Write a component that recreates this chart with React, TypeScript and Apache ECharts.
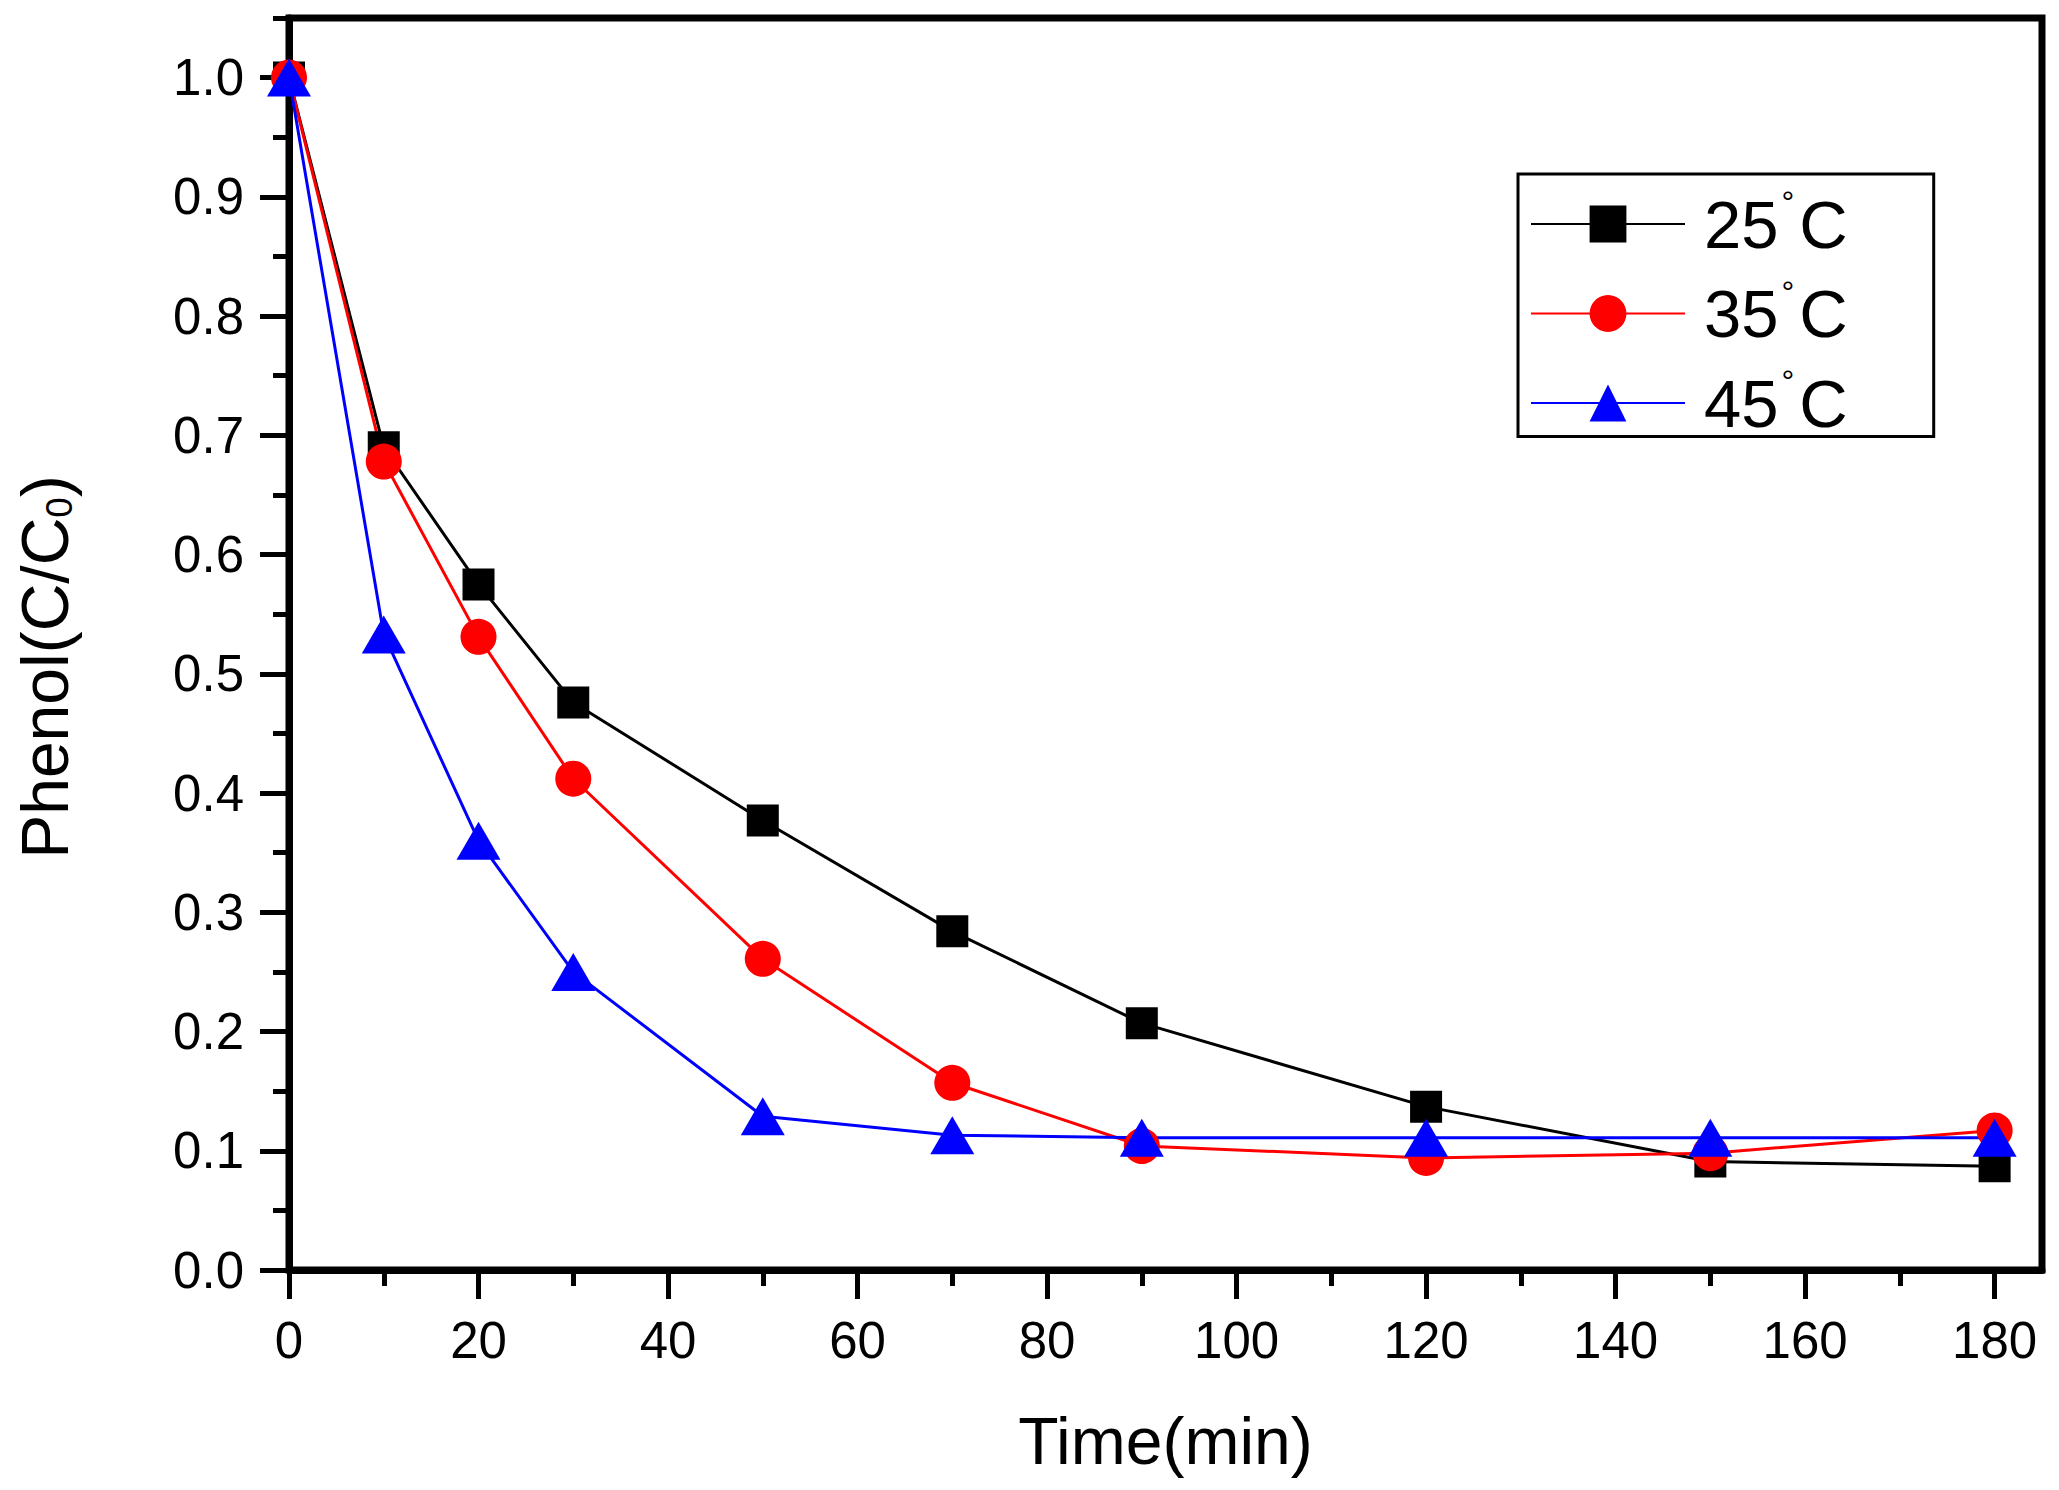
import React, { useEffect, useRef } from 'react';
import * as echarts from 'echarts';

// Time axis (min) and relative phenol concentration C/C0 per temperature
const timeMin = [0, 10, 20, 30, 50, 70, 90, 120, 150, 180];
const c25 = [1.0, 0.69, 0.575, 0.476, 0.377, 0.284, 0.207, 0.137, 0.091, 0.087];
const c35 = [1.0, 0.678, 0.531, 0.412, 0.261, 0.157, 0.104, 0.094, 0.098, 0.117];
const c45 = [1.0, 0.533, 0.36, 0.25, 0.129, 0.113, 0.111, 0.111, 0.111, 0.111];

const seriesNames = ['25°C', '35°C', '45°C'];

// tick positions
const xMajor = [0, 20, 40, 60, 80, 100, 120, 140, 160, 180];
const xMinor = [10, 30, 50, 70, 90, 110, 130, 150, 170];
const yMajor = [0, 0.1, 0.2, 0.3, 0.4, 0.5, 0.6, 0.7, 0.8, 0.9, 1.0];
const yMinor = [0.05, 0.15, 0.25, 0.35, 0.45, 0.55, 0.65, 0.75, 0.85, 0.95, 1.05];

const FONT = '"Liberation Sans", Arial, sans-serif';

const pairs = (ys: number[]) => timeMin.map((t, i) => [t, ys[i]]);

function buildOption(): echarts.EChartsOption {
  const tickStyle = { color: '#000', width: 5 };
  const lineW = 3;

  return {
    animation: false,
    backgroundColor: '#fff',
    grid: {
      left: 289,
      right: 17,
      top: 18,
      bottom: 220,
      show: true,
      borderColor: '#000',
      borderWidth: 7,
    },
    xAxis: [
      {
        type: 'value',
        position: 'bottom',
        min: 0,
        max: 185,
        axisLine: { show: true, lineStyle: { color: '#000', width: 7 } },
        axisTick: { show: true, inside: false, length: 29, lineStyle: tickStyle, customValues: xMajor } as any,
        axisLabel: {
          customValues: xMajor,
          margin: 45,
          fontSize: 51,
          color: '#000',
          fontFamily: FONT,
        } as any,
        splitLine: { show: false },
        name: 'Time(min)',
        nameLocation: 'middle',
        nameGap: 138,
        nameTextStyle: { fontSize: 66, color: '#000', fontFamily: FONT },
      },
      {
        type: 'value',
        position: 'bottom',
        min: 0,
        max: 185,
        axisLine: { show: false },
        axisTick: { show: true, inside: false, length: 16, lineStyle: tickStyle, customValues: xMinor } as any,
        axisLabel: { show: false },
        splitLine: { show: false },
      },
    ],
    yAxis: [
      {
        type: 'value',
        position: 'left',
        min: 0,
        max: 1.05,
        axisLine: { show: true, lineStyle: { color: '#000', width: 7 } },
        axisTick: { show: true, inside: false, length: 29, lineStyle: tickStyle, customValues: yMajor } as any,
        axisLabel: {
          customValues: yMajor,
          margin: 45,
          fontSize: 51,
          color: '#000',
          fontFamily: FONT,
          formatter: (v: number) => v.toFixed(1),
        } as any,
        splitLine: { show: false },
      },
      {
        type: 'value',
        position: 'left',
        min: 0,
        max: 1.05,
        axisLine: { show: false },
        axisTick: { show: true, inside: false, length: 16, lineStyle: tickStyle, customValues: yMinor } as any,
        axisLabel: { show: false },
        splitLine: { show: false },
      },
    ],
    legend: {
      data: seriesNames,
      orient: 'vertical',
      left: 1518,
      top: 174,
      itemWidth: 154,
      itemHeight: 46,
      itemGap: 18,
      padding: [12, 86, 0, 12],
      borderColor: '#000',
      borderWidth: 3,
      formatter: (name: string) => `{n|${name.replace('°C', '')}}{d|°}{n|C}`,
      textStyle: {
        padding: [0, 0, 0, 14],
        rich: {
          n: { fontSize: 67, lineHeight: 60, color: '#000', fontFamily: FONT },
          d: { fontSize: 32, verticalAlign: 'top', color: '#000', fontFamily: FONT, padding: [-8, 5, 0, 3] },
        },
      },
    },
    graphic: [
      {
        type: 'text',
        x: 45,
        y: 667,
        rotation: Math.PI / 2,
        style: {
          text: '{n|Phenol(C/C}{s|0}{n|)}',
          align: 'center',
          verticalAlign: 'middle',
          rich: {
            n: { fontSize: 66, lineHeight: 66, fill: '#000', fontFamily: FONT },
            s: { fontSize: 37, lineHeight: 42, verticalAlign: 'bottom', fill: '#000', fontFamily: FONT },
          },
        } as any,
      },
    ],
    series: [
      {
        name: seriesNames[0],
        type: 'line',
        xAxisIndex: 0,
        yAxisIndex: 0,
        data: pairs(c25),
        symbol: 'rect',
        symbolSize: 32,
        color: '#000000',
        lineStyle: { color: '#000000', width: lineW },
        itemStyle: { color: '#000000' },
      },
      {
        name: seriesNames[1],
        type: 'line',
        xAxisIndex: 0,
        yAxisIndex: 0,
        data: pairs(c35),
        symbol: 'circle',
        symbolSize: 36,
        color: '#ff0000',
        lineStyle: { color: '#ff0000', width: lineW },
        itemStyle: { color: '#ff0000' },
      },
      {
        name: seriesNames[2],
        type: 'line',
        xAxisIndex: 0,
        yAxisIndex: 0,
        data: pairs(c45),
        symbol: 'triangle',
        symbolSize: [44, 38],
        color: '#0000ff',
        lineStyle: { color: '#0000ff', width: lineW },
        itemStyle: { color: '#0000ff' },
      },
    ],
  };
}

export default function App() {
  const ref = useRef<HTMLDivElement>(null);

  useEffect(() => {
    if (!ref.current) return;
    const chart = echarts.init(ref.current, undefined, { renderer: 'svg' });
    chart.setOption(buildOption());
    return () => {
      chart.dispose();
    };
  }, []);

  return (
    <div
      ref={ref}
      style={{ position: 'fixed', left: 0, top: 0, width: 2059, height: 1490, background: '#fff' }}
    />
  );
}
